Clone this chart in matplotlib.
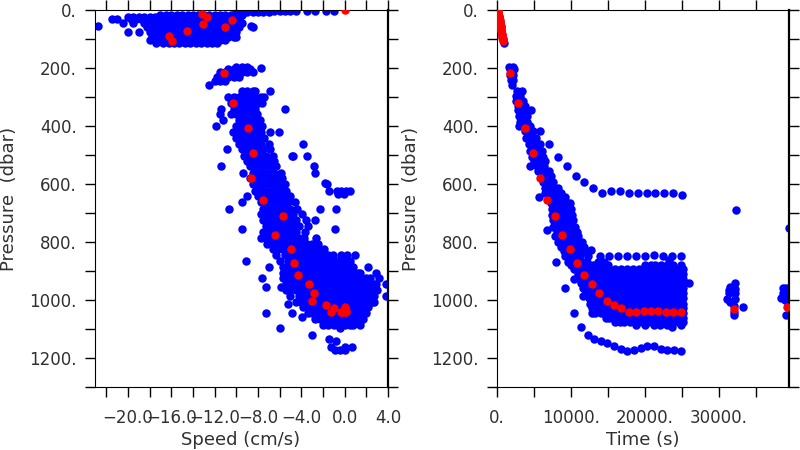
import matplotlib
matplotlib.use('Agg')
import matplotlib.pyplot as plt

# red points, same samples in both panels
red_pressure = [0, 13, 25, 36, 48, 60, 74, 89, 106, 217, 321, 408, 492, 578, 654, 711, 775, 823, 870, 913,
                945, 974, 1002, 1018, 1027, 1040, 1040, 1038, 1036, 1038, 1040, 1040, 1041, 1031, 1023]
red_speed = [0, -13.15, -12.7, -10.4, -13.06, -11.03, -14.56, -16.25, -15.98, -11.15, -10.26, -8.9, -8.45,
             -8.63, -7.56, -5.71, -6.42, -4.92, -4.67, -4.3, -3.32, -2.8, -2.98, -1.72, -0.98, -1.23, -0.31,
             0.06, 0.1, -0.06, 0.09, -0.2, -0.1, 0.0, 0.05]
red_time = [80, 170, 260, 340, 420, 500, 590, 680, 800, 1800, 2800, 3800, 4800, 5800, 6800, 7800, 8800, 9800,
            10800, 11800, 12800, 13800, 14800, 15800, 16800, 17800, 18800, 19800, 20800, 21800, 22800, 23800,
            24800, 32000, 39200]
# the near surface red streak in the time panel
streak_time = [130, 220, 300, 380, 460, 540, 630, 720, 760]
streak_pressure = [7, 19, 30, 42, 54, 67, 81, 96, 100]

# blue points left panel: (pressure, speeds)
surface_rows = [
    (2, [-1.7, -2.7, -3.5, -4.5]),
    (4, [-5, -5.5, -6, -6.5, -1.0]),
    (6, [-7, -7.5, -8, -8.5]),
    (8, [-9, -9.5, -10]),
    (17, [-17, -16.5, -16, -15.5, -15, -14.5, -14, -13.5, -13, -12.5, -12, -11.5, -11, -10.5, -10, -9.5]),
    (24, [-20, -19.5, -19, -18.5, -18, -17.5]),
    (32, [-21.5, -21, -19.75, -19.25, -18.75, -18.25, -17.75, -17.25, -16.75, -16.25, -15.75, -15.25, -14.75,
          -14.25, -13.75, -13.25, -12.75, -12.25, -11.75, -11.25, -10.75, -10.25, -9.75]),
    (46, [-20.5, -19.5, -18.5, -18, -17.5, -17, -16.5, -16, -15.5, -15, -14.5, -14, -13.5, -13, -12.5, -12,
          -11.5, -11, -10.5, -10, -9.5]),
    (54, [-22.73, -8.6]),
    (60, [-8.45, -18.25, -17.75, -17.25, -16.75, -16.25, -15.75, -15.25, -14.75, -14.25, -13.75, -13.25, -12.75,
          -12.25, -11.75, -11.25, -10.75, -10.25, -9.75]),
    (76, [-20, -19, -18, -17.5, -17, -16.5, -16, -15.5, -15, -14.5, -14, -13.5, -13, -12.5, -12, -11.5, -11,
          -10.5, -10]),
    (92, [-17.75, -17.25, -16.75, -16.25, -15.75, -15.25, -14.75, -14.25, -13.75, -13.25, -12.75, -12.25,
          -11.75, -11.25, -10.75, -10.25, -10]),
    (105, [-18, -17.5, -17, -16.5, -16, -15.5, -15, -14.5, -14, -13.5, -13, -12.5, -12, -11.5, -11]),
    (113, [-17.4, -16.75, -16.25, -15.75, -15.25, -14.75, -14.25, -13.75, -13.25, -12.75, -12.25, -11.75]),
]
mid_rows = [
    (195, [-10, -9.5, -9]),
    (199, [-7.7]),
    (205, [-10.75, -10.25, -9.75, -9.25, -8.75]),
    (215, [-11.5, -11, -10.5, -10, -9.5, -9, -8.5]),
    (230, [-11.75, -11.25, -10.75, -10.25, -9.75]),
    (245, [-12, -11.5, -11]),
    (258, [-12.5]),
    (280, [-9.5, -9, -8.5, -8.25, -6.9]),
    (300, [-10.75, -10.25, -9.75, -9.25, -8.75, -8.25, -7.75, -7.4]),
    (320, [-10.5, -10, -9.5, -9, -8.5, -8, -7.6]),
    (340, [-11.4, -10.25, -9.75, -9.25, -8.75, -8.25, -5.5]),
    (360, [-11.5, -10.5, -10, -9.5, -9, -8.5, -8.1]),
    (380, [-11.2, -9.75, -9.25, -8.75, -8.25, -7.8]),
    (400, [-11.9, -10, -9.5, -9, -8.5, -8, -7.6]),
    (420, [-10.3, -9.75, -9.25, -8.75, -8.25, -7.75, -6.9, -6.05]),
    (440, [-10, -9.5, -9, -8.5, -8, -7.4]),
    (462, [-9.75, -9.25, -8.75, -8.25, -7.75, -7, -3.85]),
    (478, [-10.85, -9.5, -9, -8.5, -8, -7.5, -6.9]),
    (503, [-9.25, -8.75, -8.25, -7.75, -7.25, -6.6, -4.9, -4.75, -3.5]),
    (520, [-9, -8.5, -8, -7.5, -7, -6.5]),
    (538, [-11.37, -8.75, -8.25, -7.75, -7.25, -6.75, -6.3, -2.86]),
    (560, [-9.4, -8.5, -8, -7.5, -7, -6.5, -5.9, -2.76]),
    (580, [-8.75, -8.25, -7.75, -7.25, -6.75, -6.25, -5.75]),
    (595, [-1.84]),
    (600, [-8.5, -8, -7.5, -7, -6.5, -6, -5.5, -1.6]),
    (622, [-8.25, -7.75, -7.25, -6.75, -6.25, -5.75, -5.4, -1.4, -0.7, -0.3, 0.1, 0.46]),
    (635, [-0.6, -0.1]),
]
deep_rows = [
    (640, [-9, -8, -7.5, -7, -6.5, -6, -5.5, -5]),
    (660, [-9.5, -7.75, -7.25, -6.75, -6.25, -5.75, -5.25, -4.6]),
    (685, [-10.7, -7.5, -7, -6.5, -6, -5.5, -5, -4.4, -2.3, -0.77]),
    (702, [-7.75, -7.25, -6.75, -6.25, -5.75, -5.25, -4.75, -3.9]),
    (725, [-7.5, -7, -6.5, -6, -5.5, -5, -4.5, -3.6, -2.76]),
    (745, [-7.25, -6.75, -6.25, -5.75, -5.25, -4.75, -4.25, -3.4]),
    (755, [-9.46, -0.86]),
    (765, [-7.5, -7, -6.5, -6, -5.5, -5, -4.5, -3.7]),
    (785, [-7.75, -7.25, -6.75, -6.25, -5.75, -5.25, -4.75, -4.25, -3.75, -2.6]),
    (805, [-7.2, -6.5, -6, -5.5, -5, -4.5, -4, -3.5, -3, -2.5]),
    (825, [-6.6, -6.25, -5.75, -5.25, -4.75, -4.25, -3.75, -3.25, -2.75, -2.25, -1.9]),
    (845, [-6.3, -5.5, -5, -4.5, -4, -3.5, -3, -2.5, -2, -1.5, -1.1, -0.3, 0.2, 0.92]),
    (865, [-9.06, -6, -5.25, -4.75, -4.25, -3.75, -3.25, -2.75, -2.25, -1.75, -1.25, -0.75, -0.25, 0.25, 0.5]),
    (885, [-7, -5.7, -5, -4.5, -4, -3.5, -3, -2.5, -2, -1.5, -1, -0.5, 0, 0.5, 0.8, 2.15]),
    (905, [-5.7, -5.25, -4.75, -4.25, -3.75, -3.25, -2.75, -2.25, -1.75, -1.25, -0.75, -0.25, 0.25, 0.75, 1.25,
           1.4, 2.86]),
    (925, [-7.6, -5.7, -5, -4.5, -4, -3.5, -3, -2.5, -2, -1.5, -1, -0.5, 0, 0.5, 1, 1.5, 2, 2.3, 3.2]),
    (945, [-5.4, -4.75, -4.25, -3.75, -3.25, -2.75, -2.25, -1.75, -1.25, -0.75, -0.25, 0.25, 0.75, 1.25, 1.75,
           2.25, 2.75, 2.9, 3.78]),
    (955, [-7.28, -5.9]),
    (965, [-5.4, -5, -4.5, -4, -3.5, -3, -2.5, -2, -1.5, -1, -0.5, 0, 0.5, 1, 1.5, 2, 2.5, 3]),
    (985, [-5, -4.25, -3.75, -3.25, -2.75, -2.25, -1.75, -1.25, -0.75, -0.25, 0.25, 0.75, 1.25, 1.75, 2.25, 2.75,
           3.78]),
    (1005, [-4.5, -4, -3.5, -3, -2.5, -2, -1.5, -1, -0.5, 0, 0.5, 1, 1.5, 2, 2.5, 2.75]),
    (1012, [-5.22]),
    (1025, [-3.8, -3.25, -2.75, -2.25, -1.75, -1.25, -0.75, -0.25, 0.25, 0.75, 1.25, 1.75, 2.2]),
    (1045, [-7.28, -4.88, -3.4, -3, -2.5, -2, -1.5, -1, -0.5, 0, 0.5, 1, 1.5, 2]),
    (1058, [-3.9]),
    (1065, [-2.75, -2.25, -1.75, -1.25, -0.75, -0.25, 0.25, 0.75, 1.25, 1.7]),
    (1085, [-2, -1.5, -1, -0.5, 0, 0.5, 0.8, 1.4]),
    (1094, [-6, -0.4]),
    (1120, [-2.98]),
    (1134, [-1.44]),
    (1140, [-0.77]),
    (1160, [-1.23, 0, 0.7]),
    (1172, [-0.9, -0.46, 0.06]),
]

# blue points right panel: (pressure, times)
surface_time_rows = [
    (10, [120]), (25, [250]), (40, [370]), (55, [480]), (70, [590]), (85, [700]), (100, [790]), (112, [880]),
]
upper_time_rows = [
    (197, [1650, 2100]), (205, [1700, 2350]), (225, [1750, 2200]), (240, [1900, 2150]), (258, [2000]),
    (280, [3420, 2750]), (298, [2600, 3100]), (315, [2600, 3100, 3550]), (330, [2800, 3300, 3800]),
    (345, [2900, 3400, 3700, 4640]), (365, [3000, 3500, 4000]), (385, [3100, 3600, 4100]), (400, [3000, 3900, 4400]),
    (418, [3800, 4300, 4800, 5860]), (440, [3900, 4400, 4900, 5300]), (463, [4300, 4800, 5300, 5800, 7030]),
    (485, [4500, 5000, 5500, 6100]), (505, [4700, 5200, 5700, 6200, 8250]), (520, [5000, 5500, 6000, 6500]),
    (538, [4415, 5400, 5900, 6400, 9460]), (555, [5500, 6000, 6500, 7000]), (571, [6300, 6800, 7300, 10630]),
    (593, [6200, 6700, 7200, 7600, 11800]), (613, [6500, 7000, 7500, 8300, 13020]),
    (629, [6500, 7000, 7500, 8000, 8600, 14190, 23800]), (623, [15400]), (624, [16620]), (631, [17800]),
    (632, [19000, 20230, 21400]), (630, [22600]), (636, [25000]), (645, [5630, 7100, 7600, 8100, 8600, 9200]),
    (665, [7300, 7800, 8300, 8800, 9400, 9900]), (688, [32300]),
]
lower_time_rows = [
    (685, [7400, 7900, 8400, 8900, 9400, 10000]),
    (705, [7400, 8000, 8500, 9000, 9500, 10100]),
    (725, [7600, 8200, 8700, 9200, 9700, 10300]),
    (746, [7600, 8100, 8600, 9100, 9600, 10100, 10500]),
    (752, [39400]),
    (757, [6800]),
    (765, [8100, 8600, 9100, 9600, 10100, 10800]),
    (780, [7880, 8400, 8900, 9400, 9900, 10400, 11000]),
    (798, [8300, 8800, 9300, 9800, 10300, 10800, 11500]),
    (815, [8600, 9100, 9600, 10100, 10600, 11100, 11800]),
    (826, [12700]),
    (832, [9000, 9500, 10000, 10500, 11000, 11800]),
    (848, [9200, 9700, 10200, 10700, 11200, 12300, 13970, 15180, 16400, 17600, 18800, 20000, 22400, 23650, 24820]),
    (843, [21170]),
    (860, [23200]),
    (867, [8000, 9600, 10100, 10600, 11100, 11600, 12100, 13600, 14400]),
    (880, [10000, 10500, 11000, 11500, 12000, 12500, 13000, 13500, 14000, 14500, 15000, 20000, 20800, 21400, 22200,
           23000, 23800, 24800]),
    (892, [10400, 11000, 11600, 12000, 12800, 13600, 14400, 15200, 16000, 16800, 17600, 18400, 19200, 20000, 20800,
           21600, 22400, 23200, 24000, 24800, 25100]),
    (908, [10900, 11400, 12000, 12400, 13200, 14000, 14800, 15600, 16400, 17200, 18000, 18800, 19600, 20400, 21200,
           22000, 22800, 23600, 24400, 25100]),
    (926, [10360, 11200, 11800, 12000, 12800, 13600, 14400, 15200, 16000, 16800, 17600, 18400, 19200, 20000, 20800,
           21600, 22400, 23200, 24000, 24800, 25100]),
    (940, [26000, 11400, 12000, 12400, 13200, 14000, 14800, 15600, 16400, 17200, 18000, 18800, 19600, 20400, 21200,
           22000, 22800, 23600, 24400, 25100]),
    (958, [9235, 11600, 12000, 12800, 13600, 14400, 15200, 16000, 16800, 17600, 18400, 19200, 20000, 20800, 21600,
           22400, 23200, 24000, 24800, 25100]),
    (976, [12000, 12400, 13200, 14000, 14800, 15600, 16400, 17200, 18000, 18800, 19600, 20400, 21200, 22000, 22800,
           23600, 24400, 25100]),
    (985, [11620]),
    (994, [12400, 12800, 13600, 14400, 15200, 16000, 16800, 17600, 18400, 19200, 20000, 20800, 21600, 22400, 23200,
           24000, 24800, 25100]),
    (1012, [12600, 13200, 14000, 14800, 15600, 16400, 17200, 18000, 18800, 19600, 20400, 21200, 22000, 22800, 23600,
            24400, 25100]),
    (1028, [12800, 13600, 14400, 15200, 16000, 16800, 17600, 18400, 19200, 20000, 20800, 21600, 22400, 23200, 24000,
            24800, 25100]),
    (1044, [10400, 12800, 13200, 14000, 14800, 15600, 16400, 17200, 18000, 18800, 19600, 20400, 21200, 22000, 22800,
            23600, 24400, 25100]),
    (1060, [14700, 15200, 16000, 16800, 17600, 18400, 19200, 20000, 20800, 21600, 22400, 23200, 24000, 24800, 25100]),
    (1074, [16000, 16600, 17200, 18000, 18800, 19600, 20400, 21200, 22000, 22800, 23600, 24400, 25100]),
    (1085, [18800, 20000, 21200, 22000, 23000, 23500, 24800]),
    (1092, [11300, 23600]),
]
bottom_time = [12250, 13100, 14000, 14900, 15800, 16700, 17600, 18500, 19400, 20300, 21200, 22100, 23000, 23900, 24800]
bottom_pressure = [1119, 1132, 1139, 1149, 1159, 1169, 1174, 1173, 1165, 1156, 1158, 1168, 1173, 1173, 1175]
cluster_time = [32100, 31500, 31300, 32200, 31300, 32200, 31100, 32200, 31500, 32000, 32000, 32000, 33250,
                38600, 39100, 38600, 39100, 38350, 38900, 39300, 39100]
cluster_pressure = [942, 953, 965, 960, 975, 975, 995, 995, 1005, 1052, 1042, 1020, 1024,
                    958, 958, 975, 975, 992, 998, 1016, 1050]

pressure_ticks = [0, 100, 200, 300, 400, 500, 600, 700, 800, 900, 1000, 1100, 1200, 1300]
pressure_labels = ['0.', '', '200.', '', '400.', '', '600.', '', '800.', '', '1000.', '', '1200.', '']
speed_ticks = [-22, -20, -18, -16, -14, -12, -10, -8, -6, -4, -2, 0, 2, 4]
speed_labels = ['', '\u221220.0', '', '\u221216.0', '', '\u221212.0', '', '\u22128.0', '', '\u22124.0', '', '0.0', '', '4.0']
time_ticks = [0, 5000, 10000, 15000, 20000, 25000, 30000, 35000]
time_labels = ['0.', '', '10000.', '', '20000.', '', '30000.', '']


def flatten(rows):
    xs = []
    ys = []
    for p, values in rows:
        xs.extend(values)
        ys.extend([p] * len(values))
    return xs, ys


def setup(ax, xticks, xlabels, xlim):
    ax.set_xlim(xlim)
    ax.set_ylim(1300, 0)
    ax.set_xticks(xticks)
    ax.set_xticklabels(xlabels)
    ax.set_yticks(pressure_ticks)
    ax.set_yticklabels(pressure_labels)
    ax.tick_params(axis='both', direction='out', length=7.2, width=1, top=True, right=True,
                   labelsize=12, labelcolor='#303030')
    ax.tick_params(axis='x', pad=8.5)
    ax.tick_params(axis='y', pad=6)
    ax.spines['right'].set_linewidth(1.6)


fig = plt.figure(figsize=(8, 4.5), dpi=100)
ax1 = fig.add_axes([95 / 800, 1 - 387.3 / 450, 293 / 800, 377.3 / 450])
ax2 = fig.add_axes([497 / 800, 1 - 387.3 / 450, 292 / 800, 377.3 / 450])

blue = '#0000ff'
red = '#ff0000'
msize = 37

for rows in (surface_rows, mid_rows, deep_rows):
    xs, ys = flatten(rows)
    ax1.scatter(xs, ys, s=msize, c=blue, linewidths=0)
ax1.scatter(red_speed, red_pressure, s=msize, c=red, linewidths=0, zorder=3)

for rows in (surface_time_rows, upper_time_rows, lower_time_rows):
    xs, ys = flatten(rows)
    ax2.scatter(xs, ys, s=msize, c=blue, linewidths=0)
ax2.scatter(bottom_time, bottom_pressure, s=msize, c=blue, linewidths=0)
ax2.scatter(cluster_time, cluster_pressure, s=msize, c=blue, linewidths=0)
ax2.scatter(red_time, red_pressure, s=msize, c=red, linewidths=0, zorder=3)
ax2.scatter(streak_time, streak_pressure, s=msize, c=red, linewidths=0, zorder=3)

setup(ax1, speed_ticks, speed_labels, (-23.04, 4))
setup(ax2, time_ticks, time_labels, (0, 39460))

# axis titles
fig.text(241 / 800, 1 - 440 / 450, 'Speed (cm/s)', ha='center', va='center', fontsize=13, color='#303030')
fig.text(643 / 800, 1 - 440 / 450, 'Time (s)', ha='center', va='center', fontsize=13, color='#303030')
fig.text(9 / 800, 1 - 199 / 450, 'Pressure  (dbar)', rotation=90, ha='center', va='center', fontsize=13, color='#303030')
fig.text(411 / 800, 1 - 199 / 450, 'Pressure  (dbar)', rotation=90, ha='center', va='center', fontsize=13, color='#303030')

fig.savefig('out.png', dpi=100)
